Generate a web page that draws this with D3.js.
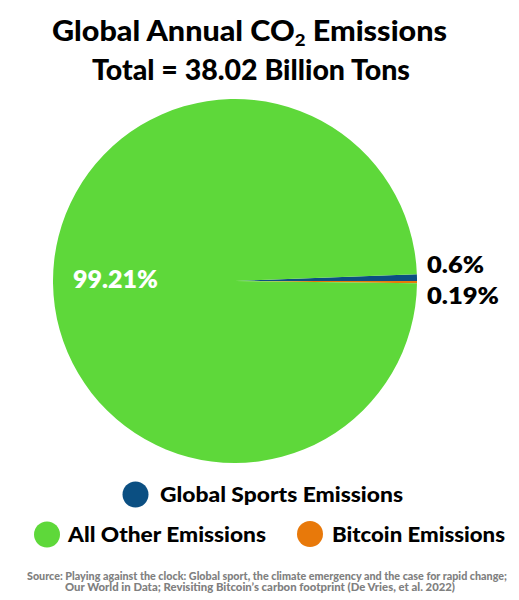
<!DOCTYPE html>
<html><head><meta charset="utf-8">
<script src="https://cdn.jsdelivr.net/npm/d3@7"></script>
<style>
body{margin:0;background:#fff;}
svg text{font-family:Lato, "Open Sans", sans-serif;}
</style></head>
<body><svg id="c" width="519" height="600"></svg>
<script>
const categories = ["Global Sports Emissions", "Bitcoin Emissions", "All Other Emissions"];
const values = [0.6, 0.19, 99.21];
const labels = ["0.6%", "0.19%", "99.21%"];
const colors = ["#0b4f82", "#e8790a", "#5ed83a"];
const legendOrder = ["Global Sports Emissions", "All Other Emissions", "Bitcoin Emissions"];
const sourceLines = ["Source: Playing against the clock: Global sport, the climate emergency and the case for rapid change;",
  "Our World in Data; Revisiting Bitcoin’s carbon footprint (De Vries, et al. 2022)"];

const svg = d3.select("#c");
const cx = 235, cy = 281, r = 182;
const color = d3.scaleOrdinal().domain(categories).range(colors);

function fit(sel, w) {
  sel.attr("textLength", w).attr("lengthAdjust", "spacingAndGlyphs");
  return sel;
}

// title
const t = svg.append("text").attr("x", 52).attr("y", 41)
  .attr("font-size", 28).attr("font-weight", 900).attr("fill", "#000");
t.append("tspan").text("Global Annual CO");
t.append("tspan").text("2").attr("font-size", 17).attr("dy", 5);
t.append("tspan").text(" Emissions").attr("dy", -5);
fit(t, 395);
fit(svg.append("text").attr("x", 92).attr("y", 80)
  .attr("font-size", 28).attr("font-weight", 900).text("Total = 38.02 Billion Tons"), 318);

const data = categories.map((c, i) => ({cat: c, value: values[i], label: labels[i]}));
const startA = Math.PI / 2 - values[0] / 100 * 2 * Math.PI;
const pie = d3.pie().value(d => d.value).sort(null).startAngle(startA).endAngle(startA + 2 * Math.PI);
const arc = d3.arc().innerRadius(0).outerRadius(r);
const g = svg.append("g").attr("transform", `translate(${cx},${cy})`);
const arcs = pie(data);
g.selectAll("path").data(arcs).join("path").attr("d", arc).attr("fill", d => color(d.data.cat));

// labels
fit(svg.append("text").attr("x", 73).attr("y", 288).attr("font-size", 24).attr("font-weight", 800)
  .attr("fill", "#fff").text(arcs[2].data.label), 85);
fit(svg.append("text").attr("x", 427).attr("y", 273).attr("font-size", 23).attr("font-weight", 800)
  .attr("fill", "#000").text(arcs[0].data.label), 57);
fit(svg.append("text").attr("x", 427).attr("y", 304).attr("font-size", 23).attr("font-weight", 800)
  .attr("fill", "#000").text(arcs[1].data.label), 72);

// legend
const legPos = [[135.5, 494.5, 160, 243], [47, 534.5, 68, 198], [310, 534, 332, 173]];
legendOrder.forEach((c, i) => {
  const [x, y, tx, w] = legPos[i];
  svg.append("circle").attr("cx", x).attr("cy", y).attr("r", 13).attr("fill", color(c));
  fit(svg.append("text").attr("x", tx).attr("y", y + 7.5).attr("font-size", 20).attr("font-weight", 900)
    .attr("fill", "#000").text(c), w);
});

// source
fit(svg.append("text").attr("x", 27).attr("y", 580).attr("font-size", 10.5)
  .attr("font-weight", 900).attr("fill", "#808080").text(sourceLines[0]), 480);
fit(svg.append("text").attr("x", 65).attr("y", 591).attr("font-size", 10.5)
  .attr("font-weight", 900).attr("fill", "#808080").text(sourceLines[1]), 390);
</script></body></html>
